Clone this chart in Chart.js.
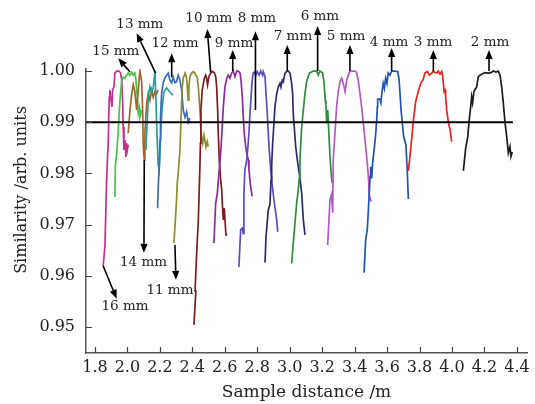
<!DOCTYPE html>
<html><head><meta charset="utf-8">
<script src="https://cdn.jsdelivr.net/npm/chart.js@4/dist/chart.umd.min.js"></script>
<style>html,body{margin:0;padding:0;background:#fff}canvas{display:block}</style>
</head><body>
<canvas id="c" width="535" height="404"></canvas>
<script>
// Axis ranges and ticks
const xMin = 1.745, xMax = 4.462;
const yMin = 0.9449, yMax = 1.0004;
const xTicks = [1.8, 2.0, 2.2, 2.4, 2.6, 2.8, 3.0, 3.2, 3.4, 3.6, 3.8, 4.0, 4.2, 4.4];
const yTicks = [0.95, 0.96, 0.97, 0.98, 0.99, 1.00];
const threshold = 0.99;
const thresholdEnd = 4.375;

// Similarity scans, one per sample size
const dist2 = [4.070,4.084,4.097,4.105,4.115,4.121,4.127,4.135,4.152,4.162,4.172,4.203,4.224,4.240,4.254,4.271,4.285,4.296,4.306,4.316,4.326,4.337,4.347,4.357,4.363,4.371];
const sim2  = [0.9805,0.9849,0.9872,0.9901,0.9930,0.9950,0.9938,0.9960,0.9969,0.9989,0.9992,0.9997,0.9996,0.9997,1.0000,0.9998,1.0000,0.9992,0.9969,0.9938,0.9901,0.9872,0.9840,0.9852,0.9833,0.9842];

const dist3 = [3.731,3.741,3.752,3.761,3.776,3.792,3.807,3.823,3.833,3.848,3.860,3.875,3.885,3.895,3.906,3.915,3.926,3.936,3.943,3.951,3.957,3.961,3.967,3.977,3.988,3.998];
const sim3  = [0.9805,0.9833,0.9869,0.9901,0.9940,0.9960,0.9976,0.9984,0.9996,0.9999,0.9992,0.9996,1.0000,0.9997,0.9996,1.0000,0.9994,0.9999,0.9989,0.9960,0.9963,0.9950,0.9924,0.9901,0.9885,0.9862];

const dist4 = [3.458,3.468,3.478,3.488,3.495,3.499,3.505,3.511,3.521,3.530,3.536,3.540,3.542,3.556,3.562,3.570,3.576,3.583,3.591,3.599,3.607,3.618,3.628,3.649,3.665,3.673,3.679,3.686,3.694,3.702,3.716,3.724,3.731];
const sim4  = [0.9606,0.9670,0.9690,0.9748,0.9794,0.9813,0.9790,0.9820,0.9849,0.9878,0.9904,0.9930,0.9945,0.9945,0.9938,0.9963,0.9976,0.9966,0.9986,0.9976,0.9996,0.9992,1.0000,1.0000,0.9999,0.9986,0.9960,0.9924,0.9898,0.9872,0.9856,0.9807,0.9750];

const dist5 = [3.234,3.248,3.257,3.265,3.267,3.268,3.275,3.283,3.289,3.299,3.310,3.320,3.330,3.341,3.351,3.361,3.371,3.385,3.402,3.413,3.422,3.433,3.443,3.453,3.464,3.474,3.484,3.490,3.498,3.505];
const sim5  = [0.9660,0.9748,0.9758,0.9723,0.9797,0.9826,0.9859,0.9901,0.9930,0.9960,0.9979,0.9986,0.9976,0.9960,0.9982,0.9992,0.9999,1.0000,1.0000,0.9997,0.9982,0.9956,0.9930,0.9901,0.9865,0.9833,0.9797,0.9758,0.9748,0.9745];

const dist6 = [3.012,3.022,3.043,3.053,3.059,3.063,3.066,3.074,3.084,3.094,3.104,3.121,3.145,3.166,3.176,3.186,3.203,3.211,3.219,3.223,3.228,3.234,3.238,3.248,3.258,3.262];
const sim6  = [0.9624,0.9664,0.9742,0.9768,0.9791,0.9826,0.9846,0.9891,0.9924,0.9956,0.9979,0.9996,1.0000,1.0000,0.9992,1.0000,0.9996,0.9979,0.9943,0.9934,0.9898,0.9924,0.9901,0.9833,0.9791,0.9781];

const dist7 = [2.848,2.854,2.868,2.878,2.885,2.889,2.895,2.903,2.909,2.920,2.930,2.940,2.946,2.954,2.960,2.971,2.981,2.991,3.002,3.012,3.018,3.022,3.028,3.037,3.047,3.059,3.074,3.084,3.094];
const sim7  = [0.9626,0.9676,0.9729,0.9738,0.9787,0.9816,0.9859,0.9898,0.9930,0.9956,0.9969,0.9976,0.9969,0.9982,0.9979,0.9996,0.9999,1.0000,0.9996,0.9976,0.9956,0.9917,0.9891,0.9852,0.9826,0.9800,0.9761,0.9709,0.9680];

const dist8 = [2.687,2.698,2.708,2.714,2.718,2.724,2.735,2.741,2.749,2.755,2.761,2.766,2.769,2.775,2.782,2.792,2.800,2.812,2.821,2.833,2.837,2.848,2.854,2.862,2.868,2.874,2.883,2.889,2.903,2.920,2.926];
const sim8  = [0.9617,0.9690,0.9693,0.9682,0.9761,0.9807,0.9826,0.9846,0.9879,0.9914,0.9943,0.9969,0.9982,0.9996,0.9998,0.9992,0.9999,0.9992,1.0000,0.9992,0.9999,0.9989,0.9956,0.9917,0.9878,0.9846,0.9807,0.9787,0.9748,0.9709,0.9686];

const dist9 = [2.533,2.544,2.554,2.564,2.570,2.576,2.584,2.591,2.601,2.612,2.621,2.632,2.642,2.652,2.663,2.673,2.683,2.694,2.700,2.708,2.714,2.720,2.729,2.735,2.745,2.749,2.758,2.769];
const sim9  = [0.9664,0.9742,0.9761,0.9800,0.9822,0.9846,0.9891,0.9930,0.9969,0.9986,0.9992,0.9986,0.9996,1.0000,0.9989,1.0000,1.0000,0.9996,0.9982,0.9950,0.9911,0.9878,0.9852,0.9840,0.9826,0.9807,0.9777,0.9755];

const dist10 = [2.410,2.422,2.418,2.427,2.437,2.447,2.450,2.453,2.461,2.467,2.474,2.482,2.488,2.494,2.502,2.513,2.523,2.535,2.544,2.550,2.556,2.560,2.566,2.575,2.581,2.587,2.591,2.597,2.607,2.615];
const sim10  = [0.9504,0.9570,0.9578,0.9645,0.9709,0.9816,0.9859,0.9924,0.9963,0.9973,0.9986,0.9992,0.9986,0.9973,0.9989,0.9996,0.9999,0.9997,0.9989,0.9969,0.9924,0.9878,0.9826,0.9787,0.9768,0.9729,0.9709,0.9732,0.9680,0.9680];

const dist11 = [2.287,2.293,2.303,2.307,2.315,2.324,2.330,2.334,2.338,2.344,2.355,2.365,2.375,2.379,2.385,2.396,2.406,2.416,2.422,2.429,2.437,2.447,2.453,2.457,2.464,2.472,2.484,2.492,2.498];
const sim11  = [0.9664,0.9696,0.9748,0.9781,0.9807,0.9846,0.9904,0.9938,0.9967,0.9986,0.9996,0.9986,0.9943,0.9969,0.9989,0.9996,0.9999,0.9996,0.9992,0.9989,0.9969,0.9924,0.9885,0.9872,0.9859,0.9875,0.9852,0.9862,0.9852];

const dist12 = [2.186,2.190,2.196,2.201,2.204,2.211,2.221,2.231,2.242,2.252,2.262,2.273,2.282,2.293,2.303,2.313,2.324,2.334,2.344,2.355,2.365,2.375,2.385];
const sim12  = [0.9732,0.9773,0.9813,0.9865,0.9910,0.9957,0.9977,0.9986,0.9992,0.9996,0.9982,0.9977,0.9988,0.9977,0.9979,0.9992,0.9982,0.9963,0.9924,0.9910,0.9920,0.9900,0.9908];

const dist13 = [2.114,2.124,2.130,2.139,2.149,2.159,2.170,2.176,2.182,2.190,2.196,2.204,2.213,2.225,2.242,2.262,2.281];
const sim13  = [0.9846,0.9914,0.9953,0.9969,0.9957,0.9967,1.0000,0.9943,0.9879,0.9816,0.9807,0.9865,0.9924,0.9959,0.9967,0.9959,0.9953];

const dist14 = [2.005,2.016,2.026,2.036,2.046,2.057,2.067,2.077,2.088,2.094,2.098,2.104,2.108,2.119,2.128,2.139,2.149,2.159,2.170,2.180,2.190];
const sim14  = [0.9879,0.9924,0.9953,0.9973,0.9960,0.9924,0.9963,1.0000,0.9979,0.9924,0.9852,0.9826,0.9879,0.9938,0.9956,0.9943,0.9963,0.9949,0.9960,0.9956,0.9963];

const dist15 = [1.923,1.926,1.936,1.944,1.954,1.965,1.974,1.985,1.995,2.005,2.016,2.026,2.036,2.046,2.053,2.061,2.067,2.073,2.077,2.088];
const sim15  = [0.9754,0.9816,0.9846,0.9885,0.9943,0.9982,0.9988,0.9986,0.9992,0.9996,0.9992,0.9998,0.9992,0.9996,0.9982,0.9949,0.9918,0.9928,0.9910,0.9924];

const dist16 = [1.851,1.862,1.871,1.877,1.882,1.888,1.892,1.899,1.905,1.909,1.917,1.923,1.934,1.948,1.958,1.965,1.971,1.974,1.979,1.985,1.991,1.995,2.000,2.005];
const sim16  = [0.9619,0.9660,0.9777,0.9826,0.9859,0.9949,0.9963,0.9943,0.9930,0.9963,0.9969,0.9996,1.0000,1.0000,0.9996,0.9982,0.9938,0.9891,0.9846,0.9865,0.9832,0.9859,0.9846,0.9856];

const series = [
  { name: '2 mm',  x: dist2,  y: sim2,  color: '#1b1b1b' },
  { name: '3 mm',  x: dist3,  y: sim3,  color: '#ec2320' },
  { name: '4 mm',  x: dist4,  y: sim4,  color: '#2452b2' },
  { name: '5 mm',  x: dist5,  y: sim5,  color: '#b05cc2' },
  { name: '6 mm',  x: dist6,  y: sim6,  color: '#2f8c3c' },
  { name: '7 mm',  x: dist7,  y: sim7,  color: '#2c2c6c' },
  { name: '8 mm',  x: dist8,  y: sim8,  color: '#5a4cc2' },
  { name: '9 mm',  x: dist9,  y: sim9,  color: '#8c2c9c' },
  { name: '10 mm', x: dist10, y: sim10, color: '#7c1c1e' },
  { name: '11 mm', x: dist11, y: sim11, color: '#8c8c30' },
  { name: '12 mm', x: dist12, y: sim12, color: '#3a6cba' },
  { name: '13 mm', x: dist13, y: sim13, color: '#2a9c9c' },
  { name: '14 mm', x: dist14, y: sim14, color: '#a2662c' },
  { name: '15 mm', x: dist15, y: sim15, color: '#4cc24c' },
  { name: '16 mm', x: dist16, y: sim16, color: '#c2328c' }
];

// Call-out labels with arrows, in axis units
const callouts = [
  { text: '2 mm',  at: [4.234, 1.00566], from: [4.228, 1.0000], to: [4.228, 1.0041] },
  { text: '3 mm',  at: [3.883, 1.00566], from: [3.885, 1.0000], to: [3.885, 1.0041] },
  { text: '4 mm',  at: [3.612, 1.00566], from: [3.628, 1.0000], to: [3.628, 1.0045] },
  { text: '5 mm',  at: [3.347, 1.00684], from: [3.371, 1.0000], to: [3.371, 1.0051] },
  { text: '6 mm',  at: [3.186, 1.01074], from: [3.172, 1.0000], to: [3.172, 1.0088] },
  { text: '7 mm',  at: [3.020, 1.00684], from: [2.985, 1.0000], to: [2.985, 1.0051] },
  { text: '8 mm',  at: [2.798, 1.01035], from: [2.789, 0.9924], to: [2.789, 1.0078] },
  { text: '9 mm',  at: [2.657, 1.00547], from: [2.649, 1.0000], to: [2.649, 1.0041] },
  { text: '10 mm', at: [2.502, 1.01035], from: [2.513, 0.9998], to: [2.492, 1.0082] },
  { text: '11 mm', at: [2.262, 0.95703], from: [2.293, 0.9660], to: [2.299, 0.9592] },
  { text: '12 mm', at: [2.293, 1.00547], from: [2.273, 0.9988], to: [2.273, 1.0035] },
  { text: '13 mm', at: [2.077, 1.00918], from: [2.174, 0.9996], to: [2.057, 1.0074] },
  { text: '14 mm', at: [2.099, 0.96250], from: [2.104, 0.9826], to: [2.102, 0.9645] },
  { text: '15 mm', at: [1.929, 1.00390], from: [2.016, 0.9998], to: [1.944, 1.0025] },
  { text: '16 mm', at: [1.985, 0.95391], from: [1.851, 0.9619], to: [1.934, 0.9555] }
];

const SERIF = "'DejaVu Serif', 'Liberation Serif', serif";

const datasets = [{
  data: [{ x: xMin, y: threshold }, { x: thresholdEnd, y: threshold }],
  borderColor: '#000', borderWidth: 2, showLine: true, pointRadius: 0
}].concat(series.map(s => ({
  label: s.name,
  data: s.x.map((v, i) => ({ x: v, y: s.y[i] })),
  borderColor: s.color, borderWidth: 1.7, showLine: true, pointRadius: 0, tension: 0
})));

const decor = {
  id: 'decor',
  afterDraw(chart) {
    const ctx = chart.ctx, xs = chart.scales.x, ys = chart.scales.y, a = chart.chartArea;
    ctx.save();
    // inward tick marks
    ctx.strokeStyle = '#444'; ctx.lineWidth = 1.2;
    ctx.beginPath();
    xTicks.forEach(v => { const p = Math.round(xs.getPixelForValue(v)) + 0.5; ctx.moveTo(p, a.bottom); ctx.lineTo(p, a.bottom - 6); });
    yTicks.forEach(v => { const p = Math.round(ys.getPixelForValue(v)) + 0.5; ctx.moveTo(a.left, p); ctx.lineTo(a.left + 6, p); });
    ctx.stroke();

    // y axis title
    ctx.fillStyle = '#222';
    ctx.font = "16px " + SERIF;
    ctx.textAlign = 'center'; ctx.textBaseline = 'middle';
    ctx.save(); ctx.translate(22, 190); ctx.rotate(-Math.PI / 2);
    ctx.fillText('Similarity /arb. units', 0, 0);
    ctx.restore();

    // call-outs
    ctx.strokeStyle = '#000'; ctx.fillStyle = '#000'; ctx.lineWidth = 1.6;
    callouts.forEach(c => {
      const x0 = xs.getPixelForValue(c.from[0]), y0 = ys.getPixelForValue(c.from[1]);
      const x1 = xs.getPixelForValue(c.to[0]),   y1 = ys.getPixelForValue(c.to[1]);
      const ang = Math.atan2(y1 - y0, x1 - x0), L = 9, W = 3.6;
      const bx = x1 - L * Math.cos(ang), by = y1 - L * Math.sin(ang);
      ctx.beginPath(); ctx.moveTo(x0, y0); ctx.lineTo(bx, by); ctx.stroke();
      ctx.beginPath();
      ctx.moveTo(x1, y1);
      ctx.lineTo(bx + W * Math.sin(ang), by - W * Math.cos(ang));
      ctx.lineTo(bx - W * Math.sin(ang), by + W * Math.cos(ang));
      ctx.closePath(); ctx.fill();
      ctx.font = "13.5px " + SERIF; ctx.fillStyle = '#222';
      ctx.fillText(c.text, xs.getPixelForValue(c.at[0]), ys.getPixelForValue(c.at[1]));
      ctx.fillStyle = '#000';
    });
    ctx.restore();
  }
};

new Chart(document.getElementById('c'), {
  type: 'scatter',
  data: { datasets },
  options: {
    responsive: false, animation: false, devicePixelRatio: 1,
    layout: { padding: { top: 69, right: 8, left: 0, bottom: 0 } },
    plugins: { legend: { display: false }, tooltip: { enabled: false } },
    scales: {
      x: {
        type: 'linear', min: xMin, max: xMax,
        afterBuildTicks: s => { s.ticks = xTicks.map(v => ({ value: v })); },
        afterFit: s => { s.height = 51; },
        grid: { display: false, drawTicks: false },
        border: { display: true, color: '#555', width: 1.5 },
        ticks: { callback: v => v.toFixed(1), font: { family: SERIF, size: 16 }, color: '#222', padding: 5, maxRotation: 0, autoSkip: false },
        title: { display: true, text: 'Sample distance /m', font: { family: SERIF, size: 17 }, color: '#222', padding: { top: 0, bottom: 1 } }
      },
      y: {
        type: 'linear', min: yMin, max: yMax,
        afterBuildTicks: s => { s.ticks = yTicks.map(v => ({ value: v })); },
        afterFit: s => { s.width = 86; },
        grid: { display: false, drawTicks: false },
        border: { display: true, color: '#555', width: 1.5 },
        ticks: { callback: v => v.toFixed(2), font: { family: SERIF, size: 16 }, color: '#222', padding: 11, autoSkip: false }
      }
    }
  },
  plugins: [decor]
});
</script>
</body></html>
